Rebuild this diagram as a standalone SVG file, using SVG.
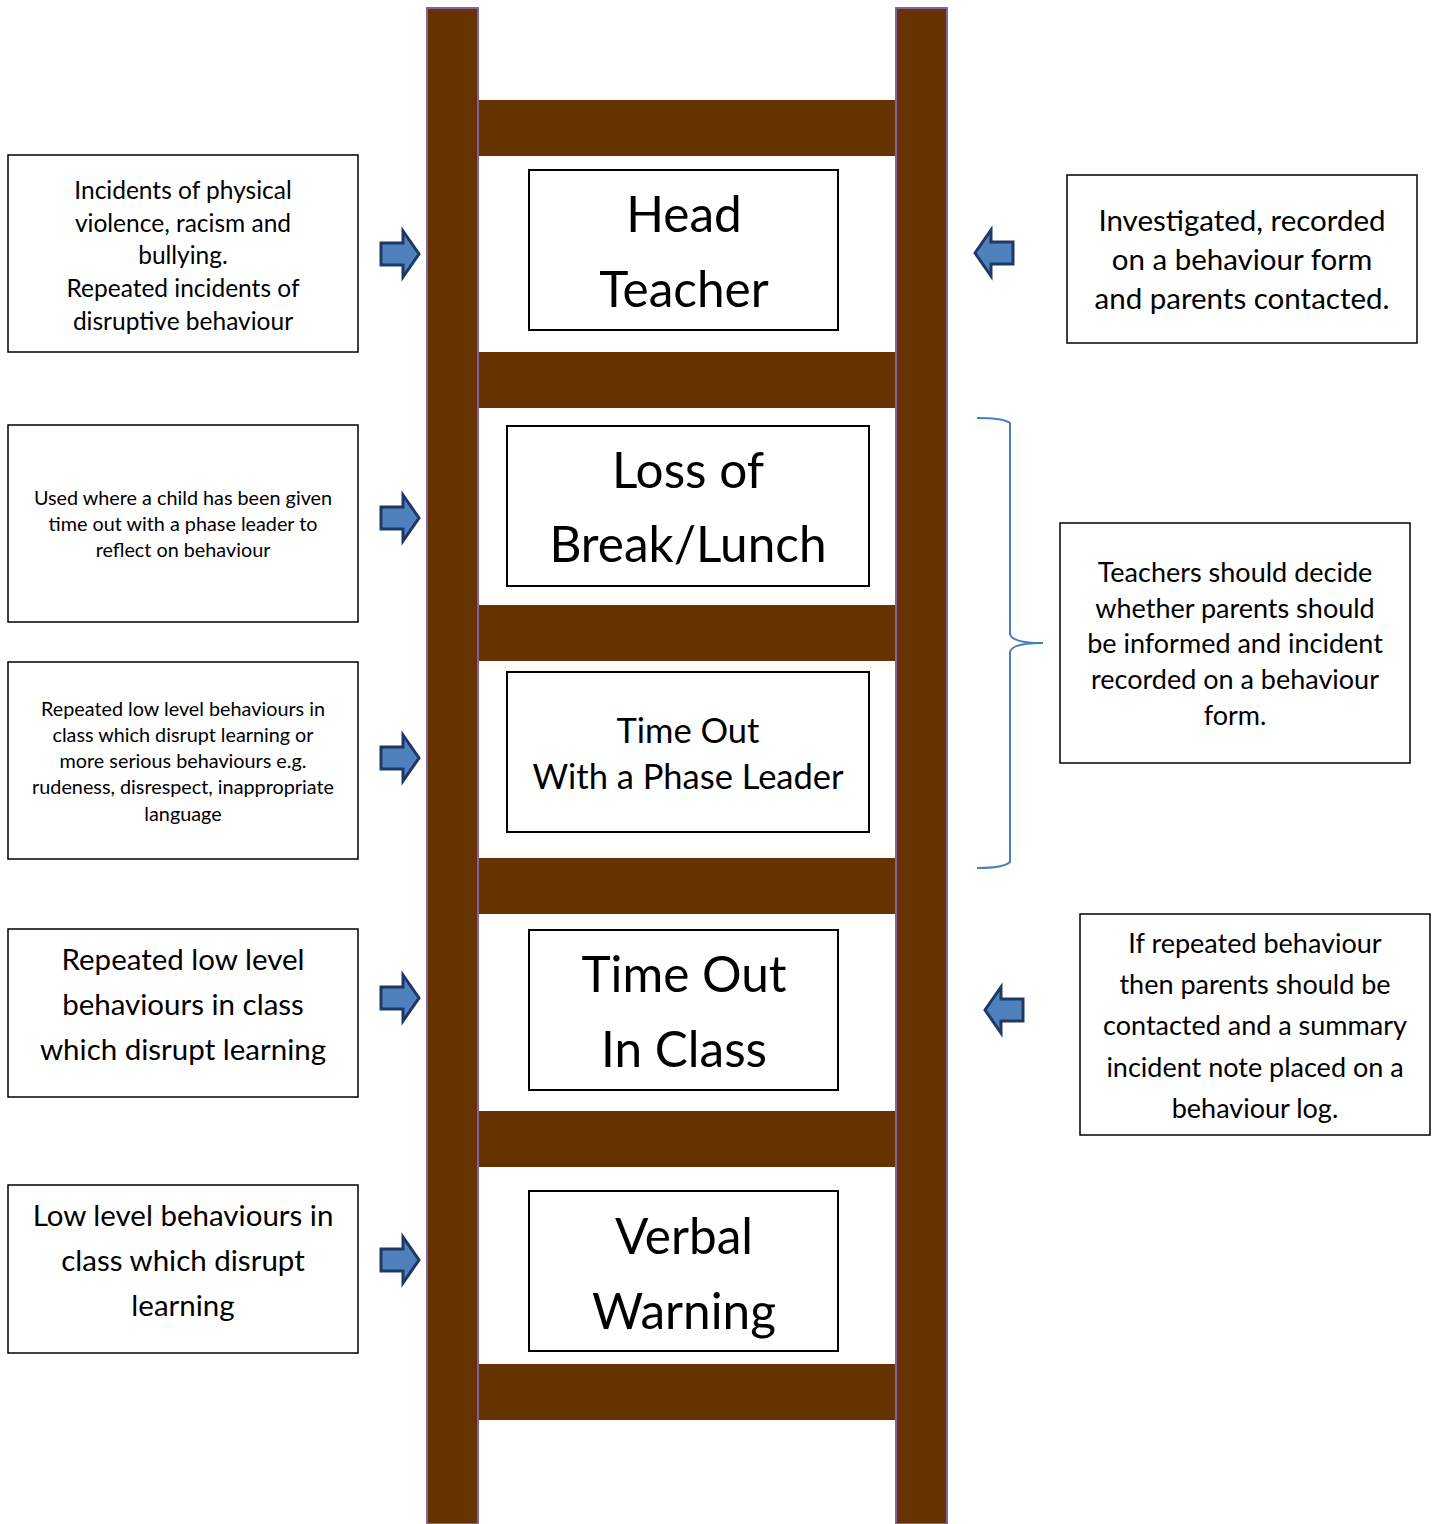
<svg xmlns="http://www.w3.org/2000/svg" xmlns:xlink="http://www.w3.org/1999/xlink" width="1432" height="1524" viewBox="0 0 1432 1524">
<style>
.rail{fill:#663300;stroke:#8064a2;stroke-width:2}
.rung{fill:#663300}
.box{fill:#fff;stroke:#000;stroke-width:1.5}
.cbox{fill:#fff;stroke:#000;stroke-width:2}
text{font-family:Lato,"Open Sans","Liberation Sans",sans-serif;fill:#000;text-anchor:middle}
.arrow{fill:#4f81bd;stroke:#1f3864;stroke-width:3;stroke-linejoin:miter}
.brace{fill:none;stroke:#4a7ebb;stroke-width:2}
.big{font-size:49.5px}
.s1{font-size:24.5px}
.s2{font-size:19.8px}
.s3{font-size:29.5px}
.s4{font-size:27px}
</style>
<defs>
<path id="ra" d="M-19,-11 H3 V-23 L19,0 L3,23 V11 H-19 Z"/>
</defs>
<rect width="1432" height="1524" fill="#fff"/>
<g id="ladder">
<rect class="rung" x="470" y="100" width="434" height="56"/>
<rect class="rung" x="470" y="352" width="434" height="56"/>
<rect class="rung" x="470" y="605" width="434" height="56"/>
<rect class="rung" x="470" y="858" width="434" height="56"/>
<rect class="rung" x="470" y="1111" width="434" height="56"/>
<rect class="rung" x="470" y="1364" width="434" height="56"/>
<rect class="rail" x="427" y="8" width="51" height="1516"/>
<rect class="rail" x="896" y="8" width="51" height="1516"/>
</g>
<g id="center-head">
<rect class="cbox" x="529" y="170" width="309" height="160"/>
<text class="big" x="684" y="232">Head</text>
<text class="big" x="684" y="307">Teacher</text>
</g>
<g id="center-loss">
<rect class="cbox" x="507" y="426" width="362" height="160"/>
<text class="big" x="688" y="488">Loss of</text>
<text class="big" x="688" y="562">Break/Lunch</text>
</g>
<g id="center-phase">
<rect class="cbox" x="507" y="672" width="362" height="160"/>
<text font-size="34.5" x="688" y="743">Time Out</text>
<text font-size="34.5" x="688" y="789">With a Phase Leader</text>
</g>
<g id="center-class">
<rect class="cbox" x="529" y="930" width="309" height="160"/>
<text class="big" x="684" y="992">Time Out</text>
<text class="big" x="684" y="1067">In Class</text>
</g>
<g id="center-verbal">
<rect class="cbox" x="529" y="1191" width="309" height="160"/>
<text class="big" x="684" y="1254">Verbal</text>
<text class="big" x="684" y="1329">Warning</text>
</g>
<g id="left-1">
<rect class="box" x="8" y="155" width="350" height="197"/>
<text class="s1" x="183" y="199">Incidents of physical</text>
<text class="s1" x="183" y="232">violence, racism and</text>
<text class="s1" x="183" y="264">bullying.</text>
<text class="s1" x="183" y="297">Repeated incidents of</text>
<text class="s1" x="183" y="330">disruptive behaviour</text>
</g>
<g id="left-2">
<rect class="box" x="8" y="425" width="350" height="197"/>
<text class="s2" x="183" y="505">Used where a child has been given</text>
<text class="s2" x="183" y="531">time out with a phase leader to</text>
<text class="s2" x="183" y="557">reflect on behaviour</text>
</g>
<g id="left-3">
<rect class="box" x="8" y="662" width="350" height="197"/>
<text class="s2" x="183" y="716">Repeated low level behaviours in</text>
<text class="s2" x="183" y="742">class which disrupt learning or</text>
<text class="s2" x="183" y="768">more serious behaviours e.g.</text>
<text class="s2" x="183" y="794">rudeness, disrespect, inappropriate</text>
<text class="s2" x="183" y="821">language</text>
</g>
<g id="left-4">
<rect class="box" x="8" y="929" width="350" height="168"/>
<text class="s3" x="183" y="970">Repeated low level</text>
<text class="s3" x="183" y="1015">behaviours in class</text>
<text class="s3" x="183" y="1060">which disrupt learning</text>
</g>
<g id="left-5">
<rect class="box" x="8" y="1185" width="350" height="168"/>
<text class="s3" x="183" y="1226">Low level behaviours in</text>
<text class="s3" x="183" y="1271">class which disrupt</text>
<text class="s3" x="183" y="1316">learning</text>
</g>
<g id="right-1">
<rect class="box" x="1067" y="175" width="350" height="168"/>
<text class="s3" x="1242" y="231">Investigated, recorded</text>
<text class="s3" x="1242" y="270">on a behaviour form</text>
<text class="s3" x="1242" y="309">and parents contacted.</text>
</g>
<g id="right-2">
<rect class="box" x="1060" y="523" width="350" height="240"/>
<text class="s4" x="1235" y="582">Teachers should decide</text>
<text class="s4" x="1235" y="618">whether parents should</text>
<text class="s4" x="1235" y="653">be informed and incident</text>
<text class="s4" x="1235" y="689">recorded on a behaviour</text>
<text class="s4" x="1235" y="725">form.</text>
</g>
<g id="right-3">
<rect class="box" x="1080" y="914" width="350" height="221"/>
<text class="s4" x="1255" y="953">If repeated behaviour</text>
<text class="s4" x="1255" y="994">then parents should be</text>
<text class="s4" x="1255" y="1035">contacted and a summary</text>
<text class="s4" x="1255" y="1077">incident note placed on a</text>
<text class="s4" x="1255" y="1118">behaviour log.</text>
</g>
<g id="connectors">
<use href="#ra" class="arrow" transform="translate(400,254)"/>
<use href="#ra" class="arrow" transform="translate(400,518)"/>
<use href="#ra" class="arrow" transform="translate(400,758)"/>
<use href="#ra" class="arrow" transform="translate(400,998)"/>
<use href="#ra" class="arrow" transform="translate(400,1260)"/>
<use href="#ra" class="arrow" transform="translate(994,253) scale(-1,1)"/>
<use href="#ra" class="arrow" transform="translate(1004,1010) scale(-1,1)"/>
<path class="brace" d="M977,418 Q1004,418 1010,423 V634 Q1012,643 1043,643 Q1012,643 1010,652 V862 Q1004,868 977,868"/>
</g>
</svg>
